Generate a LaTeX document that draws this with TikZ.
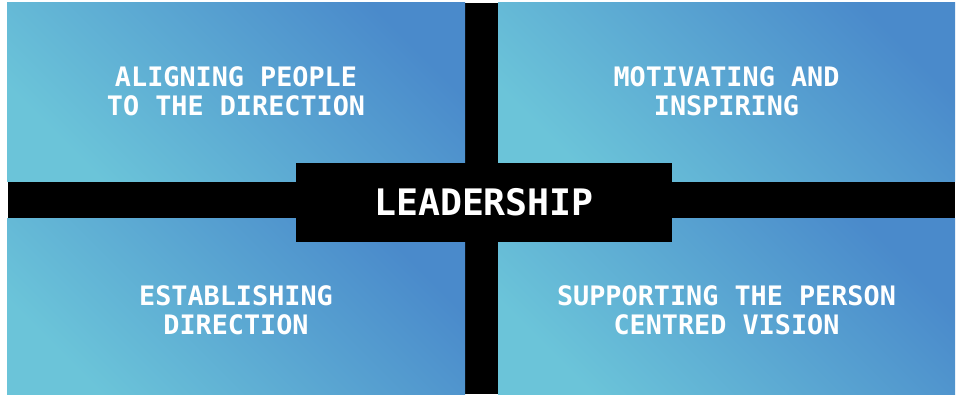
\documentclass[tikz,border=0pt]{standalone}
\usepackage{fontspec}
\setmonofont{DejaVu Sans Mono}

\definecolor{blueL}{HTML}{6BC4D9}
\definecolor{blueD}{HTML}{4A8ACB}

\tikzset{
	quad/.style={rectangle, inner sep=0pt, outer sep=0pt,
		top color=blueD, bottom color=blueL, shading angle=-45,
		minimum width=458pt, minimum height=179pt},
	quadtext/.style={align=center, text=white, inner sep=0pt,
		font=\ttfamily\bfseries\fontsize{26.8}{29}\selectfont},
	hub/.style={rectangle, fill=black, inner sep=0pt, text=white,
		minimum width=376pt, minimum height=79pt,
		font=\ttfamily\bfseries\fontsize{36.5}{40}\selectfont}
}

\begin{document}
\begin{tikzpicture}[x=1pt, y=-1pt]
			\useasboundingbox (0,0) rectangle (962,394);

			% Black cross behind the quadrants
			\fill[black] (8,3) rectangle (955,394);

			% Quadrants
			\node[quad] (align) at (236,91.5) {};
			\node[quad, minimum width=457pt] (motivate) at (726.5,91.5) {};
			\node[quad, minimum height=176pt] (establish) at (236,306) {};
			\node[quad, minimum width=457pt, minimum height=176pt] (support) at (726.5,306) {};

			% Quadrant texts
			\node[quadtext] (alignText) at (align.center) {ALIGNING PEOPLE\\TO THE DIRECTION};
			\node[quadtext] (motivateText) at (motivate.center) {MOTIVATING AND\\INSPIRING};
			\node[quadtext, yshift=-4pt] (establishText) at (establish.center) {ESTABLISHING\\DIRECTION};
			\node[quadtext, yshift=-4pt] (supportText) at (support.center) {SUPPORTING THE PERSON\\CENTRED VISION};

			% Centre box
			\node[hub] (lead) at (484,202.5) {LEADERSHIP};
		\end{tikzpicture}
\end{document}
